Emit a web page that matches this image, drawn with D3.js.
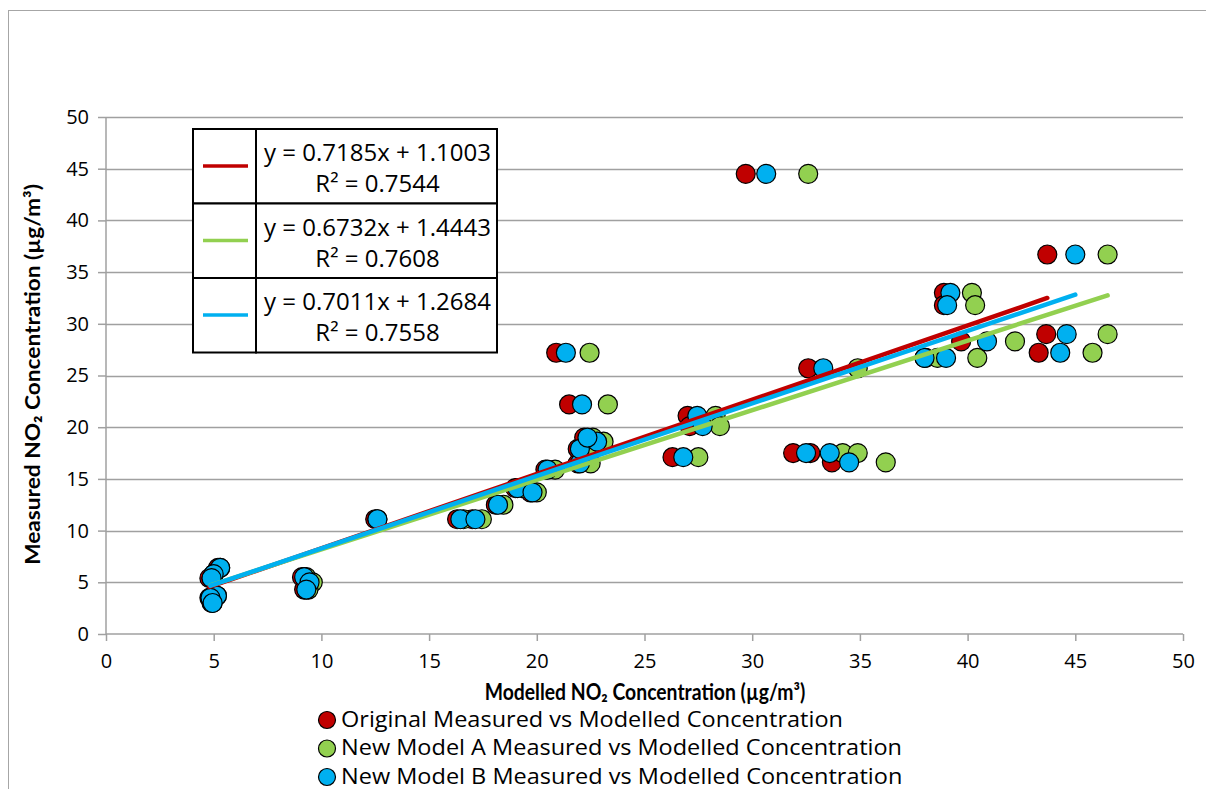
<!DOCTYPE html>
<html>
<head>
<meta charset="utf-8">
<script src="https://cdn.jsdelivr.net/npm/d3@7"></script>
<style>
  html, body { margin: 0; padding: 0; background: #fff; overflow: hidden; }
  svg { display: block; font-family: "Open Sans", Lato, sans-serif; }
</style>
</head>
<body>
<svg width="1206" height="789"></svg>
<script>
// measured concentration at each site (same for every model)
const measured = [6.4, 5.8, 5.4, 3.7, 3.5, 3.0, 5.5, 5.0, 4.3, 11.1, 11.1, 11.1, 12.5, 14.1, 13.7, 15.9,
  16.5, 17.9, 18.6, 19.0, 22.2, 27.2, 21.1, 20.1, 17.1, 17.5, 17.5, 16.6, 44.5, 25.7, 33.0, 31.8,
  28.3, 36.7, 29.0, 27.2, 26.7, 26.7];
const modelledOriginal = [5.2, 5.0, 4.8, 5.1, 4.8, 4.9, 9.1, 9.4, 9.2, 12.5, 16.3, 17.0, 18.1, 19.0, 19.7, 20.4,
  21.9, 21.9, 22.6, 22.2, 21.5, 20.9, 27.0, 27.1, 26.3, 31.9, 32.7, 33.7, 29.7, 32.6, 38.9, 38.9,
  39.7, 43.7, 43.65, 43.3, 38.0, 38.05];
const modelledA = [5.3, 5.0, 4.9, 5.15, 4.85, 4.95, 9.3, 9.6, 9.4, 12.6, 16.6, 17.45, 18.45, 19.3, 20.0, 20.85,
  22.5, 22.3, 23.1, 22.6, 23.3, 22.45, 28.3, 28.5, 27.5, 34.2, 34.9, 36.2, 32.6, 34.9, 40.2, 40.35,
  42.2, 46.5, 46.5, 45.8, 40.45, 38.6];
const modelledB = [5.3, 5.0, 4.9, 5.15, 4.85, 4.95, 9.2, 9.45, 9.3, 12.6, 16.45, 17.15, 18.2, 19.1, 19.8, 20.5,
  22.0, 22.0, 22.8, 22.35, 22.1, 21.35, 27.45, 27.7, 26.8, 32.5, 33.6, 34.5, 30.65, 33.3, 39.2, 39.05,
  40.9, 45.0, 44.6, 44.3, 38.0, 39.0];

const seriesNames = ['Original Measured vs Modelled Concentration',
  'New Model A Measured vs Modelled Concentration',
  'New Model B Measured vs Modelled Concentration'];
const seriesColors = ['#C00000', '#92D050', '#00B0F0'];
const slopes = [0.7185, 0.6732, 0.7011];
const intercepts = [1.1003, 1.4443, 1.2684];
const rSquared = ['0.7544', '0.7608', '0.7558'];
const slopeText = ['0.7185', '0.6732', '0.7011'];
const interceptText = ['1.1003', '1.4443', '1.2684'];
const axisTicks = [0, 5, 10, 15, 20, 25, 30, 35, 40, 45, 50];

const series = [modelledOriginal, modelledA, modelledB].map((xs, i) => ({
  name: seriesNames[i],
  color: seriesColors[i],
  slope: slopes[i],
  intercept: intercepts[i],
  points: xs.map((x, j) => ({ x, y: measured[j] })),
}));

const svg = d3.select('svg');

// chart area border (runs off the right and bottom edges)
svg.append('rect')
  .attr('x', 8.5).attr('y', 10.5)
  .attr('width', 1300).attr('height', 900)
  .attr('fill', '#fff')
  .attr('stroke', '#a6a6a6');

const x = d3.scaleLinear().domain([0, 50]).range([106, 1183]);
const y = d3.scaleLinear().domain([0, 50]).range([634, 117]);

// horizontal gridlines
svg.append('g')
  .selectAll('line')
  .data(axisTicks.slice(1))
  .enter().append('line')
  .attr('x1', x(0)).attr('x2', x(50))
  .attr('y1', (d) => Math.round(y(d)) + 0.5)
  .attr('y2', (d) => Math.round(y(d)) + 0.5)
  .attr('stroke', '#a0a0a0')
  .attr('stroke-width', 1.5);

const yAxis = svg.append('g')
  .attr('transform', `translate(${x(0)},0)`)
  .call(d3.axisLeft(y).tickValues(axisTicks).tickSize(8).tickPadding(9));

const xAxis = svg.append('g')
  .attr('transform', `translate(0,${y(0)})`)
  .call(d3.axisBottom(x).tickValues(axisTicks).tickSize(7).tickPadding(13));

[xAxis, yAxis].forEach((g) => {
  g.selectAll('path, line').attr('stroke', '#a0a0a0').attr('stroke-width', 1.5);
  g.select('.domain').attr('d', g === xAxis
    ? `M${x(0)},0H${x(50)}`
    : `M0,${y(50)}V${y(0)}`);
  g.selectAll('text')
    .attr('font-family', '"Open Sans", sans-serif')
    .attr('font-size', 20)
    .attr('fill', '#000');
});

// markers
series.forEach((s) => {
  svg.append('g')
    .selectAll('circle')
    .data(s.points)
    .enter().append('circle')
    .attr('cx', (d) => x(d.x))
    .attr('cy', (d) => y(d.y))
    .attr('r', 9.5)
    .attr('fill', s.color)
    .attr('stroke', '#000')
    .attr('stroke-width', 1.2);
});

// linear trendlines over each series' x range
series.forEach((s) => {
  const [x0, x1] = d3.extent(s.points, (d) => d.x);
  svg.append('line')
    .attr('x1', x(x0)).attr('y1', y(s.slope * x0 + s.intercept))
    .attr('x2', x(x1)).attr('y2', y(s.slope * x1 + s.intercept))
    .attr('stroke', s.color)
    .attr('stroke-width', 4.5)
    .attr('stroke-linecap', 'round');
});

// trendline equation table
const table = svg.append('g');
const tLeft = 193, tMid = 256, tRight = 497, tTop = 129, rowH = 74.5;
series.forEach((s, i) => {
  const top = tTop + i * rowH;
  table.append('rect')
    .attr('x', tLeft).attr('y', top)
    .attr('width', tMid - tLeft).attr('height', rowH)
    .attr('fill', '#fff').attr('stroke', '#000').attr('stroke-width', 2);
  table.append('rect')
    .attr('x', tMid).attr('y', top)
    .attr('width', tRight - tMid).attr('height', rowH)
    .attr('fill', '#fff').attr('stroke', '#000').attr('stroke-width', 2);
  table.append('line')
    .attr('x1', 203).attr('x2', 248)
    .attr('y1', top + 37).attr('y2', top + 37)
    .attr('stroke', s.color).attr('stroke-width', 3.5);
  const cx = (tMid + tRight) / 2 + 1;
  table.append('text')
    .attr('x', cx).attr('y', top + 32)
    .attr('text-anchor', 'middle')
    .attr('font-size', 24)
    .text(`y = ${slopeText[i]}x + ${interceptText[i]}`);
  table.append('text')
    .attr('x', cx).attr('y', top + 63)
    .attr('text-anchor', 'middle')
    .attr('font-size', 24)
    .text(`R² = ${rSquared[i]}`);
});

// axis titles (slightly condensed / stretched like the original export)
svg.append('text')
  .attr('transform', 'translate(645,700) scale(0.88,1)')
  .attr('text-anchor', 'middle')
  .attr('font-family', 'Lato, sans-serif')
  .attr('font-size', 22)
  .attr('font-weight', 'bold')
  .text('Modelled NO₂ Concentration (µg/m³)');

svg.append('text')
  .attr('transform', `translate(40,${(y(0) + y(50)) / 2 - 1}) rotate(-90) scale(1.08,1)`)
  .attr('text-anchor', 'middle')
  .attr('font-family', 'Lato, sans-serif')
  .attr('font-size', 21)
  .attr('font-weight', 'bold')
  .text('Measured NO₂ Concentration (µg/m³)');

// series legend below the chart
const legend = svg.append('g');
series.forEach((s, i) => {
  const ly = 720 + i * 28.5;
  legend.append('circle')
    .attr('cx', 327).attr('cy', ly)
    .attr('r', 8.5)
    .attr('fill', s.color)
    .attr('stroke', '#000')
    .attr('stroke-width', 1.2);
  legend.append('text')
    .attr('transform', `translate(341,${ly + 6.5}) scale(1.12,1)`)
    .attr('font-size', 21)
    .text(s.name);
});
</script>
</body>
</html>
